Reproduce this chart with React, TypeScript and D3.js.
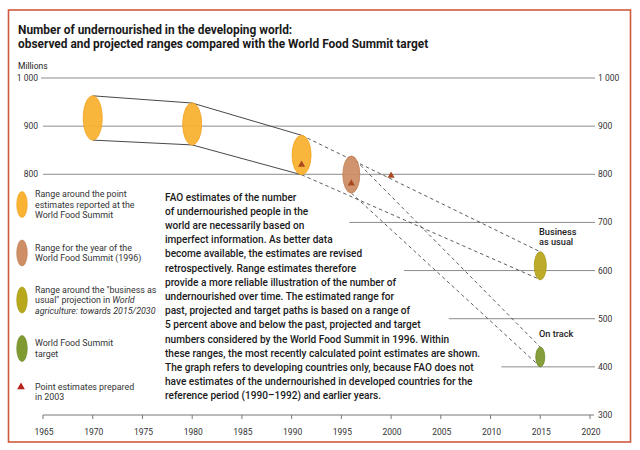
import React from "react";
import * as d3 from "d3";

// ---------- data ----------
const titleLines = [
  "Number of undernourished in the developing world:",
  "observed and projected ranges compared with the World Food Summit target",
];
const xTickYears = [1965, 1970, 1975, 1980, 1985, 1990, 1995, 2000, 2005, 2010, 2015, 2020];
const yTickValues = [1000, 900, 800, 700, 600, 500, 400, 300];
const gridStartYear = [1965, 1965, 1965, 1995.8, 2001.3, 2005.8, 2011.1, 1965];
const leftLabelValues = [1000, 900, 800];

// ranges (ellipses)
const rangeYears = [1970, 1980, 1991, 1996, 2015, 2015];
const rangeLow = [871, 861, 799, 761, 581, 400];
const rangeHigh = [963, 948, 881, 838, 639, 441];
const rangeKind = ["wfs", "wfs", "wfs", "y1996", "bau", "target"];

// connecting paths: [fromIndex, toIndex]
const solidLinks = [[0, 1], [1, 2]];
const dashedLinks = [[2, 4], [3, 5]];

// point estimates prepared in 2003
const pointYears = [1991, 1996, 2000];
const pointValues = [820, 781, 797];

const paragraphLines = [
  "FAO estimates of the number",
  "of undernourished people in the",
  "world are necessarily based on",
  "imperfect information. As better data",
  "become available, the estimates are revised",
  "retrospectively. Range estimates therefore",
  "provide a more reliable illustration of the number of",
  "undernourished over time. The estimated range for",
  "past, projected and target paths is based on a range of",
  "5 percent above and below the past, projected and target",
  "numbers considered by the World Food Summit in 1996. Within",
  "these ranges, the most recently calculated point estimates are shown.",
  "The graph refers to developing countries only, because FAO does not",
  "have estimates of the undernourished in developed countries for the",
  "reference period (1990–1992) and earlier years.",
];

// ---------- styles ----------
const COLORS: Record<string, { fill: string; stroke: string }> = {
  wfs: { fill: "#F9B232", stroke: "#F2A21F" },
  y1996: { fill: "#CE8F66", stroke: "#C07C52" },
  bau: { fill: "#B8A81E", stroke: "#A89815" },
  target: { fill: "#7E9A31", stroke: "#6E8A27" },
};
const ELLIPSE_RX: Record<string, number> = { wfs: 9.5, y1996: 8.5, bau: 6, target: 4.5 };
const FONT = "Roboto, 'DejaVu Sans', sans-serif";
const FRAME = "#D05A3E";
const GRID = "#8c8c8c";
const TRI = "#A94A22";

const x = d3.scaleLinear().domain([1965, 2020]).range([43, 590]);
const y = d3.scaleLinear().domain([300, 1000]).range([415, 78]);
const fmt = (v: number) => d3.format(",")(v).replace(",", " ");
const triPath = d3.symbol(d3.symbolTriangle).size(22)() as string;
const legendTriPath = d3.symbol(d3.symbolTriangle).size(26)() as string;

export default function App() {
  const legendItems = [
    { kind: "wfs", cy: 204.5, lines: [["Range around the point"], ["estimates reported at the"], ["World Food Summit"]] },
    { kind: "y1996", cy: 253, lines: [["Range for the year of the"], ["World Food Summit (1996)"]] },
    {
      kind: "bau",
      cy: 300,
      lines: [["Range around the \"business as"], ["usual\" projection in ", "World"], ["", "agriculture: towards 2015/2030"]],
    },
    { kind: "target", cy: 348.5, lines: [["World Food Summit"], ["target"]] },
  ];

  return (
    <svg
      width={640}
      height={450}
      style={{ position: "absolute", left: 0, top: 0, background: "#fff" }}
      fontFamily={FONT}
    >
      <rect x={8.5} y={10} width={622} height={432} fill="#fff" stroke={FRAME} strokeWidth={1.6} />

      {/* title */}
      {titleLines.map((t, i) => (
        <text key={i} x={18} y={34 + i * 13.6} fontSize={11.9} fontWeight={700} fill="#1a1a1a">
          {t}
        </text>
      ))}
      <text x={18} y={69} fontSize={8.5} fill="#222">Millions</text>

      {/* grid lines */}
      {yTickValues.slice(0, 7).map((v, i) => (
        <line
          key={v}
          x1={x(gridStartYear[i]) - (i === 0 ? 2 : 0)}
          x2={595}
          y1={y(v)}
          y2={y(v)}
          stroke={GRID}
          strokeWidth={1}
        />
      ))}
      {/* right labels */}
      {yTickValues.map((v) => (
        <text key={v} x={598} y={y(v) + 3} fontSize={8.5} fill="#333">
          {fmt(v)}
        </text>
      ))}
      {leftLabelValues.map((v) => (
        <text key={v} x={38} y={y(v) + 3} fontSize={8.5} fill="#333" textAnchor="end">
          {fmt(v)}
        </text>
      ))}

      {/* bottom axis */}
      <line x1={x(1965)} x2={594} y1={y(300)} y2={y(300)} stroke="#777" strokeWidth={1} />
      {xTickYears.map((yr) => (
        <g key={yr}>
          <line x1={x(yr)} x2={x(yr)} y1={y(300)} y2={y(300) + 4} stroke="#777" />
          <text x={x(yr) + 1} y={435} fontSize={8.5} textAnchor="middle" fill="#333">
            {yr}
          </text>
        </g>
      ))}

      {/* connecting lines */}
      {solidLinks.map(([a, b], i) => (
        <g key={"s" + i}>
          <line x1={x(rangeYears[a])} y1={y(rangeHigh[a])} x2={x(rangeYears[b])} y2={y(rangeHigh[b])} stroke="#333" strokeWidth={0.9} />
          <line x1={x(rangeYears[a])} y1={y(rangeLow[a])} x2={x(rangeYears[b])} y2={y(rangeLow[b])} stroke="#333" strokeWidth={0.9} />
        </g>
      ))}
      {dashedLinks.map(([a, b], i) => (
        <g key={"d" + i}>
          <line x1={x(rangeYears[a])} y1={y(rangeHigh[a])} x2={x(rangeYears[b])} y2={y(rangeHigh[b])} stroke="#333" strokeWidth={0.8} strokeDasharray="3.5,3" />
          <line x1={x(rangeYears[a])} y1={y(rangeLow[a])} x2={x(rangeYears[b])} y2={y(rangeLow[b])} stroke="#333" strokeWidth={0.8} strokeDasharray="3.5,3" />
        </g>
      ))}

      {/* range ellipses */}
      {rangeYears.map((yr, i) => {
        const c = COLORS[rangeKind[i]];
        const cy = (y(rangeHigh[i]) + y(rangeLow[i])) / 2;
        const ry = (y(rangeLow[i]) - y(rangeHigh[i])) / 2;
        return (
          <ellipse
            key={i}
            cx={x(yr)}
            cy={cy}
            rx={ELLIPSE_RX[rangeKind[i]]}
            ry={ry}
            fill={c.fill}
            stroke={c.stroke}
            strokeWidth={0.8}
            fillOpacity={0.95}
          />
        );
      })}

      {/* point estimates */}
      {pointYears.map((yr, i) => (
        <path key={i} d={triPath} transform={`translate(${x(yr)},${y(pointValues[i])})`} fill={TRI} />
      ))}

      {/* projection labels */}
      <text x={539} y={235} fontSize={9.2} fontWeight={500} fill="#222">Business</text>
      <text x={539} y={244.5} fontSize={9.2} fontWeight={500} fill="#222">as usual</text>
      <text x={539} y={337} fontSize={9.2} fontWeight={500} fill="#222">On track</text>

      {/* legend */}
      {legendItems.map((it) => {
        const c = COLORS[it.kind];
        const n = it.lines.length;
        const first = it.cy - ((n - 1) * 10.5) / 2 + 3;
        return (
          <g key={it.kind}>
            <ellipse cx={22} cy={it.cy} rx={5.3} ry={13} fill={c.fill} stroke={c.stroke} strokeWidth={0.6} />
            {it.lines.map((ln, j) => (
              <text key={j} x={35} y={first + j * 10.5} fontSize={8.9} fill="#333">
                {ln[0]}
                {ln[1] ? <tspan fontStyle="italic">{ln[1]}</tspan> : null}
              </text>
            ))}
          </g>
        );
      })}
      <path d={legendTriPath} transform="translate(21,387)" fill="#B5231A" />
      <text x={35} y={389.5} fontSize={8.9} fill="#333">Point estimates prepared</text>
      <text x={35} y={400} fontSize={8.9} fill="#333">in 2003</text>

      {/* explanatory paragraph */}
      {paragraphLines.map((t, i) => (
        <text key={i} x={165} y={200.6 + i * 14.2} fontSize={10.1} fontWeight={500} fill="#1a1a1a">
          {t}
        </text>
      ))}
    </svg>
  );
}
